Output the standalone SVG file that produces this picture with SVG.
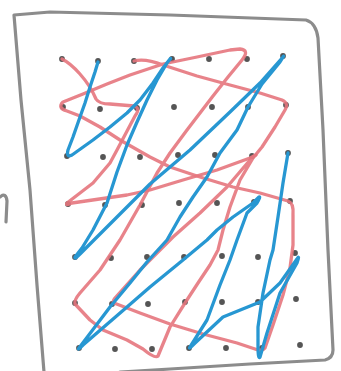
<svg xmlns="http://www.w3.org/2000/svg" width="341" height="371" viewBox="0 0 341 371">
<style>
.frame{fill:none;stroke:#8c8c8c;stroke-width:3.2;stroke-linecap:round;stroke-linejoin:round}
.dot{fill:#555}
.red{fill:none;stroke:#e5767d;stroke-width:3.3;stroke-linecap:round;stroke-linejoin:round;opacity:0.9}
.blue{fill:none;stroke:#2797d2;stroke-width:3.3;stroke-linecap:round;stroke-linejoin:round}
</style>
<rect width="341" height="371" fill="#fff"/>
<g id="frame">
<path class="frame" d="M44,372 L37,285 L30,190 L21,100 L14,15 L50,12 L170,15 L306,20 Q316,23 318,38 L323,130 L328,250 L333,350 Q333,358 325,360 L250,364 L170,369 L120,372"/>
<path class="frame" d="M0,197 Q6,192 7,201 L6,222"/>
</g>
<g id="dots">
<circle class="dot" cx="62" cy="59" r="2.9"/><circle class="dot" cx="98" cy="61" r="2.9"/><circle class="dot" cx="134" cy="61" r="2.9"/><circle class="dot" cx="172" cy="59" r="2.9"/><circle class="dot" cx="209" cy="59" r="2.9"/><circle class="dot" cx="247" cy="59" r="2.9"/><circle class="dot" cx="283" cy="56" r="2.9"/>
<circle class="dot" cx="63" cy="107" r="2.9"/><circle class="dot" cx="100" cy="109" r="2.9"/><circle class="dot" cx="137" cy="108" r="2.9"/><circle class="dot" cx="174" cy="107" r="2.9"/><circle class="dot" cx="212" cy="107" r="2.9"/><circle class="dot" cx="248" cy="107" r="2.9"/><circle class="dot" cx="286" cy="105" r="2.9"/>
<circle class="dot" cx="67" cy="156" r="2.9"/><circle class="dot" cx="103" cy="157" r="2.9"/><circle class="dot" cx="140" cy="157" r="2.9"/><circle class="dot" cx="178" cy="155" r="2.9"/><circle class="dot" cx="215" cy="155" r="2.9"/><circle class="dot" cx="252" cy="156" r="2.9"/><circle class="dot" cx="288" cy="153" r="2.9"/>
<circle class="dot" cx="68" cy="204" r="2.9"/><circle class="dot" cx="105" cy="205" r="2.9"/><circle class="dot" cx="142" cy="205" r="2.9"/><circle class="dot" cx="179" cy="203" r="2.9"/><circle class="dot" cx="217" cy="203" r="2.9"/><circle class="dot" cx="254" cy="202" r="2.9"/><circle class="dot" cx="290" cy="201" r="2.9"/>
<circle class="dot" cx="75" cy="257" r="2.9"/><circle class="dot" cx="111" cy="258" r="2.9"/><circle class="dot" cx="147" cy="257" r="2.9"/><circle class="dot" cx="184" cy="257" r="2.9"/><circle class="dot" cx="222" cy="256" r="2.9"/><circle class="dot" cx="258" cy="257" r="2.9"/><circle class="dot" cx="295" cy="253" r="2.9"/>
<circle class="dot" cx="75" cy="303" r="2.9"/><circle class="dot" cx="112" cy="304" r="2.9"/><circle class="dot" cx="148" cy="304" r="2.9"/><circle class="dot" cx="185" cy="302" r="2.9"/><circle class="dot" cx="222" cy="302" r="2.9"/><circle class="dot" cx="258" cy="302" r="2.9"/><circle class="dot" cx="296" cy="299" r="2.9"/>
<circle class="dot" cx="79" cy="348" r="2.9"/><circle class="dot" cx="115" cy="349" r="2.9"/><circle class="dot" cx="152" cy="349" r="2.9"/><circle class="dot" cx="189" cy="348" r="2.9"/><circle class="dot" cx="226" cy="348" r="2.9"/><circle class="dot" cx="262" cy="348" r="2.9"/><circle class="dot" cx="300" cy="345" r="2.9"/>
</g>
<g id="connectors">
<path class="red" d="M62,59 C72,64 88,80 96,99 Q99,104 110,104 L134,106 Q141,108 135,116 L117,150 L110,163 L93,183 L67,203 Q65,206 72,203 L127,195 L150,190 L183,180 L217,170 L250,158 L256,155"/>
<path class="red" d="M134,61 Q145,58 163,65 L197,76 L230,85 L260,93 L282,100 Q289,103 285,110 L275,127 L262,147 L253,158 L240,180 L230,207 L223,230 L218,250 L210,265 L198,283 L185,303 L170,327 L158,356 Q155,359 143,349 L127,340 L103,330 L90,320 L75,304 Q74,300 80,293 L100,270 L120,240 L140,205 L157,173 L170,153 L187,130 L213,96 L228,77 L242,60 Q250,50 240,49 L230,50 L197,57 L163,64 L130,75 L107,84 L83,94 L63,102 Q57,108 67,111 L80,116 L100,127 L120,140 L150,157 L170,167 L200,177 L233,187 L260,193 L288,201 Q294,203 293,215 L293,245 L290,268 L283,295 L273,325 L265,348 Q262,352 255,349 L237,343 L203,334 L170,324 L140,313 L114,303 Q112,302 115,298 L140,270 L173,237 L200,213 L227,187 L250,160 L254,156"/>
<path class="blue" d="M98,62 L95,72 L90,87 L85,103 L80,117 L73,137 L68,150 Q66,158 72,155 L93,140 L110,127 L127,113 L140,100 L153,83 L163,68 L170,59 Q172,57 167,63 L157,80 L147,100 L137,122 L127,145 L117,172 L107,203 L93,230 L82,248 L75,257 Q74,260 80,254 L110,224 L150,184 L190,150 L230,112 L260,83 L283,57 Q285,54 280,62 L262,84 L248,107 L237,130 L220,153 L207,177 L193,197 L180,217 L167,240 L147,262 L130,283 L110,307 L79,348 Q77,351 83,345 L127,307 L150,287 L183,260 L207,240 L217,230 L233,217 L253,203 L259,197 Q261,196 257,203 L247,213 L237,240 L230,260 L220,285 L207,320 L190,347 Q188,350 194,344 L223,317 L260,302 L280,283 L297,259 Q300,254 297,263 L280,293 L267,333 L260,357 Q258,360 258,345 L258,327 L263,293 L270,260 L273,250 L278,217 L283,183 L288,153"/>
</g>
</svg>
